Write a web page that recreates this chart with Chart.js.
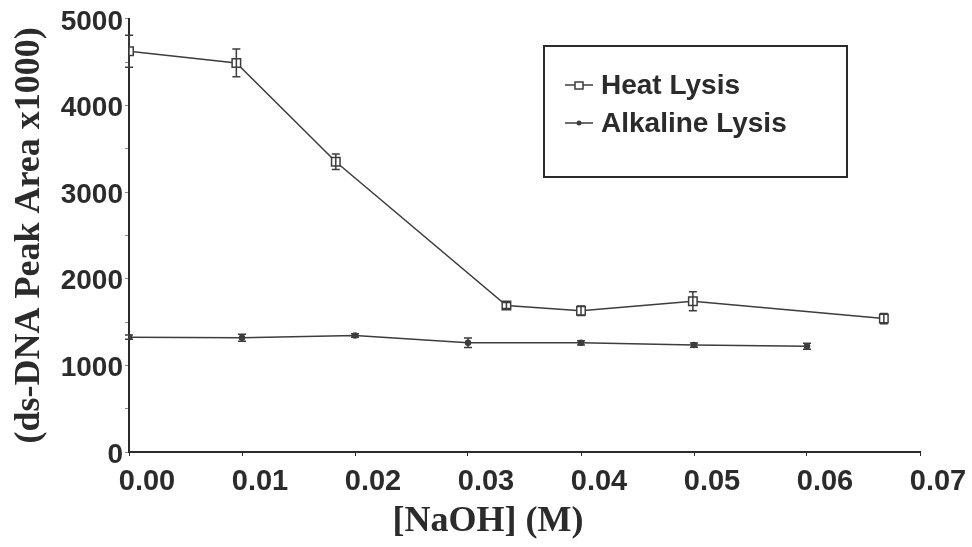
<!DOCTYPE html>
<html>
<head>
<meta charset="utf-8">
<script src="https://cdn.jsdelivr.net/npm/chart.js@4/dist/chart.umd.min.js"></script>
<style>
  html, body { margin: 0; padding: 0; background: #fff; }
</style>
</head>
<body>
<canvas id="lysis-chart" width="972" height="547"></canvas>
<script>
(function () {
    'use strict';

    // NaOH concentration (M) and peak area (x1000) for each lysis method
    const naohHeat = [0, 0.0095, 0.0183, 0.0334, 0.0400, 0.0499, 0.0668];
    const heatArea = [4625, 4490, 3350, 1690, 1630, 1740, 1540];
    const heatErr = [185, 160, 90, 35, 55, 110, 60];

    const naohAlk = [0, 0.01, 0.02, 0.03, 0.04, 0.05, 0.06];
    const alkArea = [1325, 1318, 1345, 1260, 1260, 1234, 1220];
    const alkErr = [25, 40, 20, 55, 25, 25, 35];

    const xTicks = [0, 0.01, 0.02, 0.03, 0.04, 0.05, 0.06, 0.07];
    const seriesNames = ['Heat Lysis', 'Alkaline Lysis'];

    const ink = '#2b2b2b';
    const lineInk = '#3d3d3d';
    const sans = '"Liberation Sans", Arial, sans-serif';
    const serif = '"Liberation Serif", "Times New Roman", serif';

    const toPoints = (xs, ys) => xs.map((x, i) => ({ x: x, y: ys[i] }));
    const errors = [heatErr, alkErr];

    // vertical error bars with short caps, placed through the scales
    const errorBars = {
        id: 'errorBars',
        afterDatasetsDraw(chart) {
            const ctx = chart.ctx;
            const yScale = chart.scales.y;
            ctx.save();
            ctx.strokeStyle = lineInk;
            ctx.lineWidth = 1.5;
            chart.data.datasets.forEach((ds, d) => {
                const meta = chart.getDatasetMeta(d);
                meta.data.forEach((pt, i) => {
                    const v = ds.data[i].y;
                    const e = errors[d][i];
                    const top = yScale.getPixelForValue(v + e);
                    const bot = yScale.getPixelForValue(v - e);
                    const cap = 4;
                    ctx.beginPath();
                    ctx.moveTo(pt.x, top);
                    ctx.lineTo(pt.x, bot);
                    ctx.moveTo(pt.x - cap, top);
                    ctx.lineTo(pt.x + cap, top);
                    ctx.moveTo(pt.x - cap, bot);
                    ctx.lineTo(pt.x + cap, bot);
                    ctx.stroke();
                });
            });
            ctx.restore();
        }
    };

    // boxed legend inside the plot, plus the x-axis title
    const boxLegend = {
        id: 'boxLegend',
        afterDraw(chart) {
            const ctx = chart.ctx;
            ctx.save();
            ctx.strokeStyle = ink;
            ctx.lineWidth = 2;
            ctx.strokeRect(544, 46, 303, 131);

            ctx.font = 'bold 28px ' + sans;
            ctx.textBaseline = 'middle';
            ctx.textAlign = 'left';
            seriesNames.forEach((name, i) => {
                const y = 85 + i * 38;
                ctx.strokeStyle = lineInk;
                ctx.lineWidth = 1.5;
                ctx.beginPath();
                ctx.moveTo(565, y);
                ctx.lineTo(593, y);
                ctx.stroke();
                if (i === 0) {
                    ctx.fillStyle = '#fff';
                    ctx.fillRect(575, y - 3, 8, 7);
                    ctx.strokeRect(575, y - 3, 8, 7);
                } else {
                    ctx.fillStyle = lineInk;
                    ctx.beginPath();
                    ctx.arc(579, y, 2.5, 0, Math.PI * 2);
                    ctx.fill();
                }
                ctx.fillStyle = ink;
                ctx.fillText(name, 601, y + 1);
            });

            ctx.font = 'bold 36px ' + serif;
            ctx.textAlign = 'center';
            ctx.fillStyle = ink;
            ctx.fillText('[NaOH] (M)', 488, 522);
            ctx.restore();
        }
    };

    new Chart(document.getElementById('lysis-chart').getContext('2d'), {
        type: 'line',
        data: {
            datasets: [{
                label: seriesNames[0],
                data: toPoints(naohHeat, heatArea),
                borderColor: lineInk,
                borderWidth: 1.5,
                pointStyle: 'rect',
                pointRadius: 6,
                pointBorderWidth: 1.5,
                pointBackgroundColor: '#fff',
                pointBorderColor: lineInk,
                tension: 0
            }, {
                label: seriesNames[1],
                data: toPoints(naohAlk, alkArea),
                borderColor: lineInk,
                borderWidth: 1.5,
                pointStyle: 'circle',
                pointRadius: 2.5,
                pointBackgroundColor: lineInk,
                pointBorderColor: lineInk,
                tension: 0
            }]
        },
        options: {
            responsive: false,
            animation: false,
            layout: { padding: { top: 15, right: 52, left: 0, bottom: 0 } },
            plugins: {
                legend: { display: false },
                tooltip: { enabled: false }
            },
            scales: {
                x: {
                    type: 'linear',
                    min: 0,
                    max: 0.07,
                    afterBuildTicks: s => { s.ticks = xTicks.map(v => ({ value: v })); },
                    afterFit: s => { s.height = 95; },
                    border: { color: ink, width: 2 },
                    grid: { drawOnChartArea: false, drawTicks: true, tickLength: 4, color: ink },
                    ticks: {
                        color: ink,
                        font: { family: sans, size: 29, weight: 'bold' },
                        padding: 9,
                        labelOffset: 18,
                        maxRotation: 0,
                        autoSkip: false,
                        callback: v => Number(v).toFixed(2)
                    }
                },
                y: {
                    min: 0,
                    max: 5000,
                    afterFit: s => { s.width = 129; },
                    border: { color: ink, width: 2 },
                    grid: { drawOnChartArea: false, drawTicks: true, tickLength: 4, color: '#888' },
                    ticks: {
                        stepSize: 500,
                        autoSkip: false,
                        color: ink,
                        font: { family: sans, size: 28, weight: 'bold' },
                        padding: 2,
                        labelOffset: 3,
                        callback: v => (v % 1000 === 0 ? String(v) : '')
                    },
                    title: {
                        display: true,
                        text: '(ds-DNA Peak Area x1000)',
                        color: ink,
                        font: { family: serif, size: 36, weight: 'bold' },
                        padding: { top: 8, bottom: 0 }
                    }
                }
            }
        },
        plugins: [errorBars, boxLegend]
    });
})();
</script>
</body>
</html>
